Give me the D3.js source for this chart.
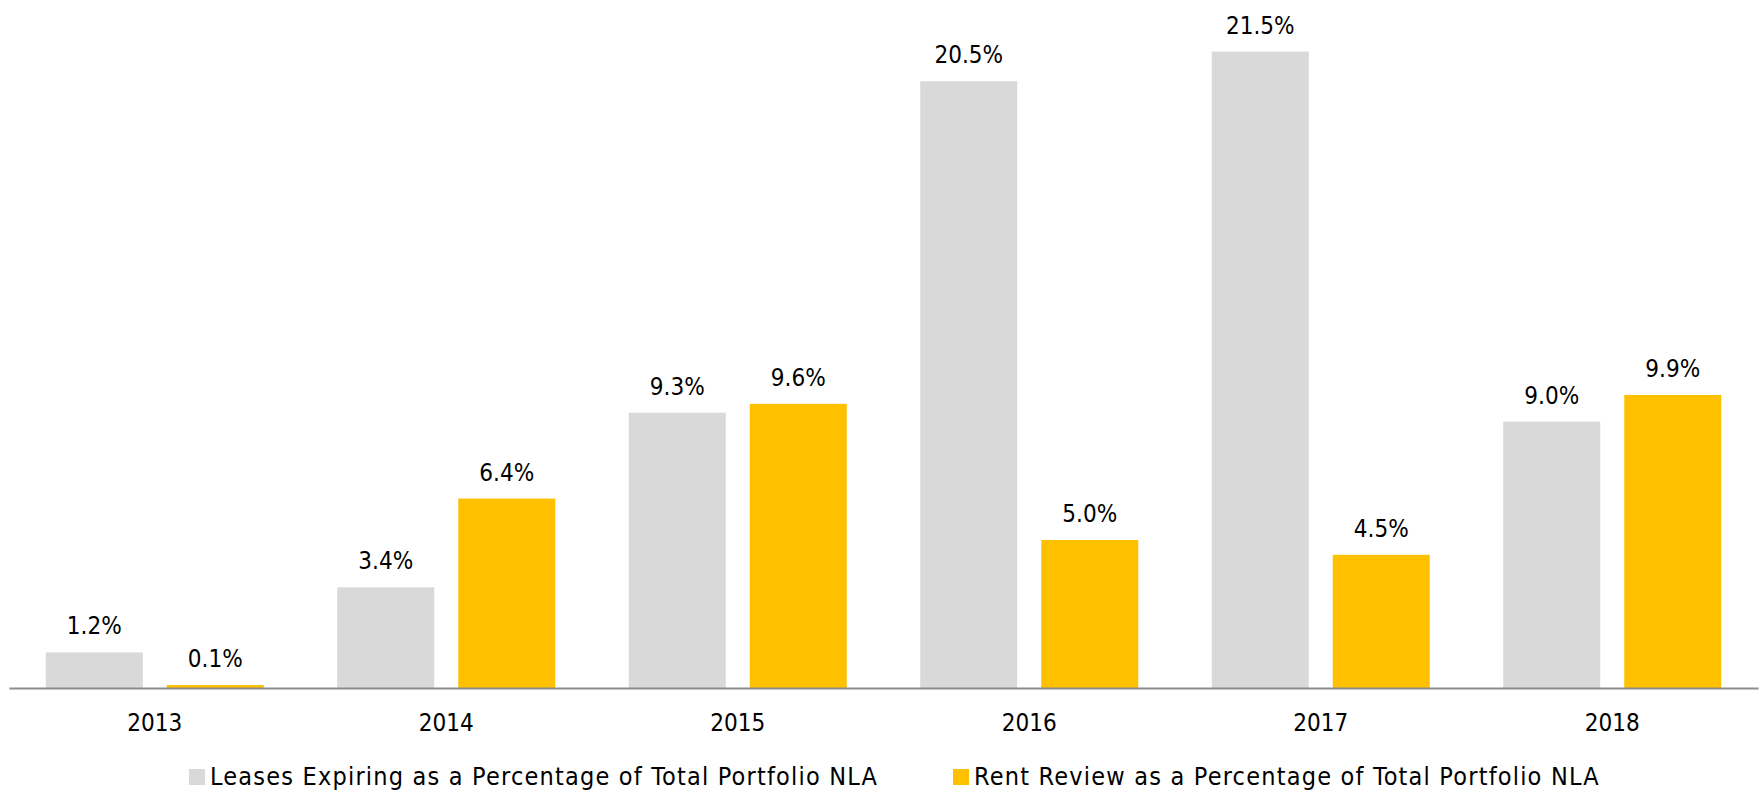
<!DOCTYPE html>
<html>
<head>
<meta charset="utf-8">
<script src="https://cdn.jsdelivr.net/npm/d3@7"></script>
<style>
  body { margin: 0; background: #fff; }
  text { font-family: "DejaVu Sans Condensed", "DejaVu Sans", sans-serif; fill: #000; }
</style>
</head>
<body>
<script>
var years = ["2013", "2014", "2015", "2016", "2017", "2018"];
var leasesExpiring = [1.2, 3.4, 9.3, 20.5, 21.5, 9.0];
var rentReview = [0.1, 6.4, 9.6, 5.0, 4.5, 9.9];
var seriesNames = ["Leases Expiring as a Percentage of Total Portfolio NLA",
                   "Rent Review as a Percentage of Total Portfolio NLA"];
var colors = ["#d9d9d9", "#ffc000"];

var width = 1760, height = 792;
var margin = {top: 0, right: 2, bottom: 104, left: 9};
var baseY = height - margin.bottom;

var svg = d3.select("body").append("svg")
  .attr("width", width)
  .attr("height", height);

var x = d3.scaleBand()
  .domain(years)
  .range([margin.left, width - margin.right]);

// two bars of ~97px with a 24px gap, centred in each year band
var x1 = d3.scaleBand()
  .domain([0, 1])
  .range([x.bandwidth() / 2 - 109, x.bandwidth() / 2 + 109])
  .paddingInner(24 / 121)
  .paddingOuter(0);

var y = d3.scaleLinear()
  .domain([0, 23])
  .range([baseY, baseY - 23 * 29.6]);

var rows = years.map(function (yr, i) {
  return {year: yr, values: [leasesExpiring[i], rentReview[i]]};
});

var groups = svg.selectAll(".group")
  .data(rows)
  .enter().append("g")
  .attr("transform", function (d) { return "translate(" + x(d.year) + ",0)"; });

var bars = groups.selectAll("g.bar")
  .data(function (d) { return d.values.map(function (v, k) { return {k: k, v: v}; }); })
  .enter().append("g");

bars.append("rect")
  .attr("x", function (d) { return x1(d.k); })
  .attr("width", x1.bandwidth())
  .attr("y", function (d) { return y(d.v); })
  .attr("height", function (d) { return baseY - y(d.v); })
  .attr("fill", function (d) { return colors[d.k]; });

bars.append("text")
  .attr("x", function (d) { return x1(d.k) + x1.bandwidth() / 2; })
  .attr("y", function (d) { return y(d.v) - 18; })
  .attr("text-anchor", "middle")
  .style("font-size", "24px")
  .text(function (d) { return d.v.toFixed(1) + "%"; });

// x axis
var xAxis = svg.append("g")
  .attr("transform", "translate(0," + baseY + ")")
  .call(d3.axisBottom(x).tickSize(0).tickPadding(26));
xAxis.select(".domain").attr("stroke", "#8c8c8c").attr("stroke-width", 2);
xAxis.selectAll("text")
  .style("font-size", "24px")
  .style("font-family", "'DejaVu Sans Condensed', 'DejaVu Sans', sans-serif")
  .attr("fill", "#000");

// legend
var legendX = [189, 953];
var legend = svg.selectAll(".legend")
  .data(seriesNames)
  .enter().append("g")
  .attr("transform", function (d, i) { return "translate(" + legendX[i] + ",785)"; });

legend.append("rect")
  .attr("x", 0).attr("y", -16)
  .attr("width", 16).attr("height", 16)
  .attr("fill", function (d, i) { return colors[i]; });

legend.append("text")
  .attr("x", 21)
  .style("font-size", "25px")
  .style("letter-spacing", "1.2px")
  .text(function (d) { return d; });
</script>
</body>
</html>
